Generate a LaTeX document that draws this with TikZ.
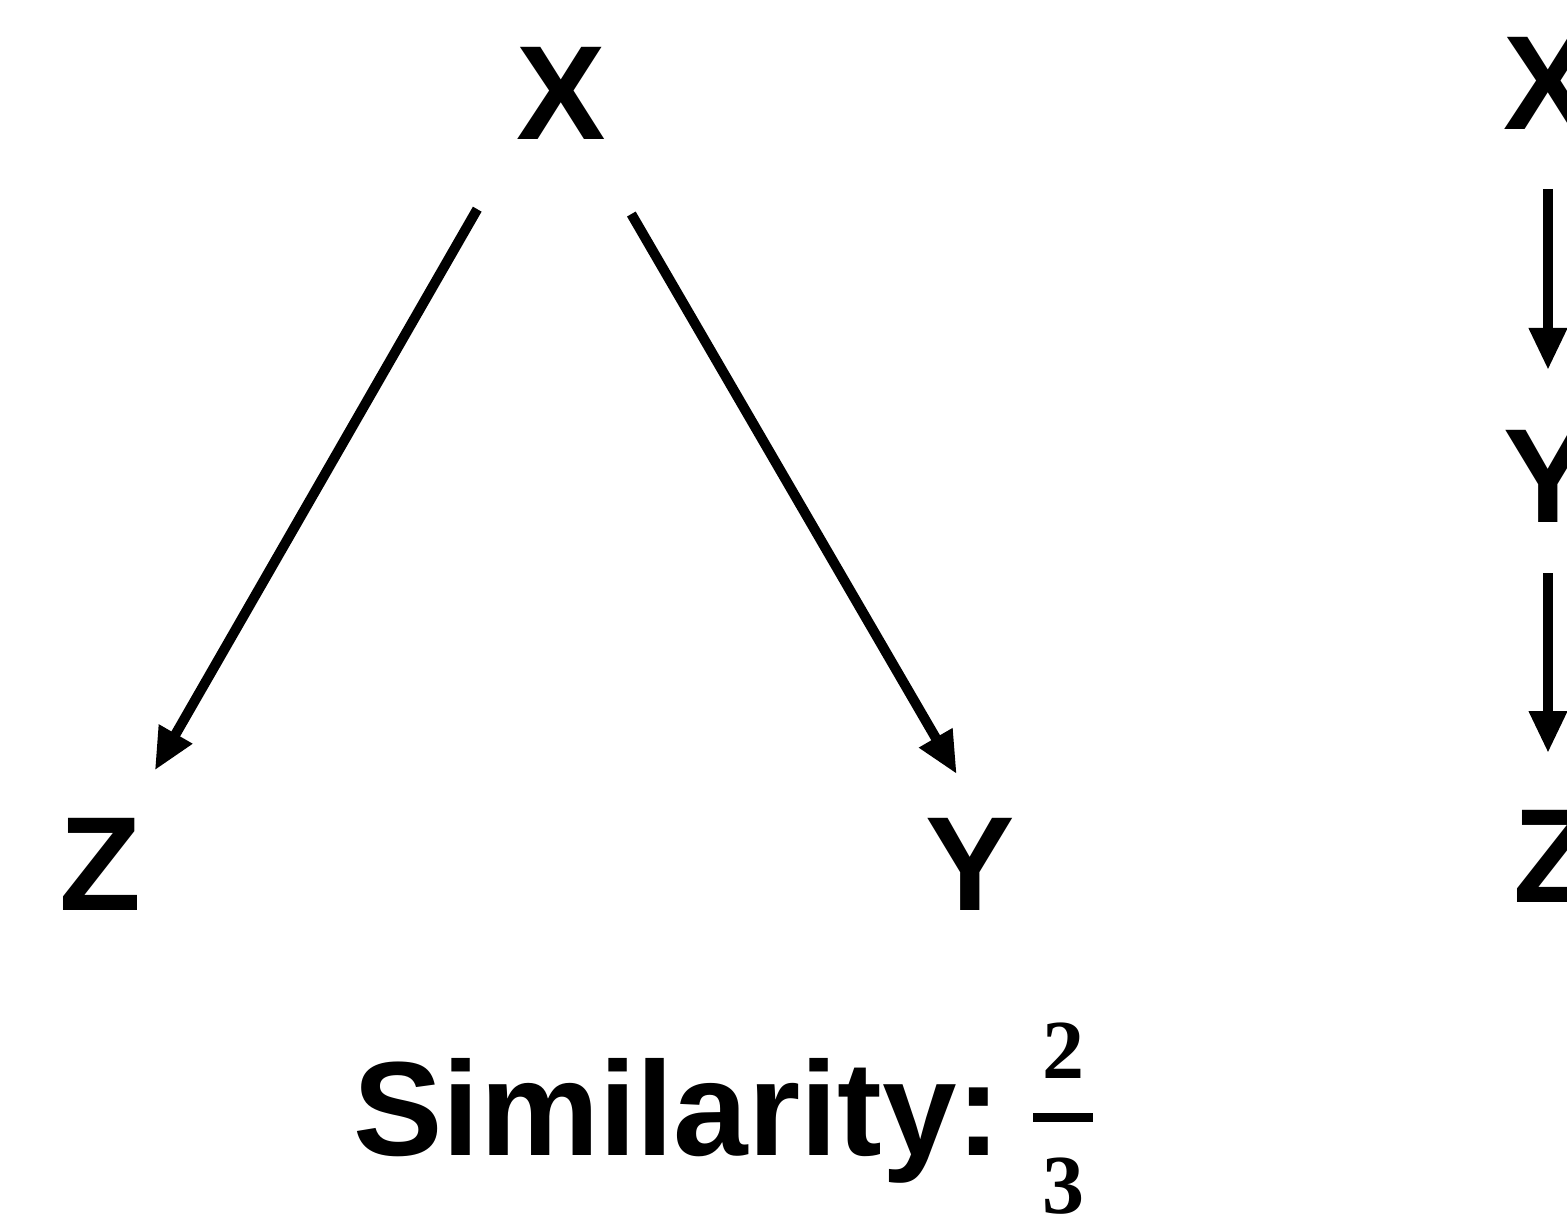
\documentclass[tikz,border=0pt]{standalone}
\usepackage{fontspec}
\setmainfont{Liberation Sans}
\newfontfamily\digitfont{Liberation Serif}
\usepackage{tikz}
\usetikzlibrary{arrows.meta,positioning}
\tikzset{
  varnode/.style={font=\fontsize{67}{67}\selectfont\bfseries,inner sep=0pt},
  causalarrow/.style={-{Triangle[length=21pt,width=18pt]},line width=5pt},
  scorelabel/.style={font=\fontsize{67}{67}\selectfont\bfseries,inner sep=0pt},
  fraclabel/.style={font=\digitfont\bfseries\fontsize{42}{42}\selectfont,inner sep=0pt}
}
\begin{document}
\begin{tikzpicture}[x=0.5pt,y=-0.5pt]
  \useasboundingbox (0,0) rectangle (1567,1219);
  % fork: X -> Z, X -> Y
  \node[varnode] (xl) at (561,93) {X};
  \node[varnode] (zl) at (100,864) {Z};
  \node[varnode] (yl) at (970,864) {Y};
  \draw[causalarrow,shorten <=67pt,shorten >=54pt] ([xshift=-8.5pt]xl.center) -- ([xshift=0.5pt]zl.center);
  \draw[causalarrow,shorten <=70pt,shorten >=52pt] (xl.center) -- ([xshift=19.5pt]yl.center);
  % chain: X -> Y -> Z
  \node[varnode] (xr) at (1548,83) {X};
  \node[varnode] (yr) at (1548,476) {Y};
  \node[varnode] (zr) at (1554,856) {Z};
  \draw[causalarrow,shorten <=53pt,shorten >=53pt] (xr.center) -- (yr.center);
  \draw[causalarrow,shorten <=48.5pt,shorten >=51.5pt] (yr.center) -- ([xshift=-3pt]zr.center);
  % score
  \node[scorelabel,anchor=base west] (sim) at (353,1155) {Similarity:};
  \node[fraclabel] (frac) at (1063,1118.5)
    {\vbox{\offinterlineskip\hbox to 30pt{\hss 2\hss}\kern17pt\hrule height 4.5pt\kern18pt\hbox to 30pt{\hss 3\hss}}};
\end{tikzpicture}
\end{document}
